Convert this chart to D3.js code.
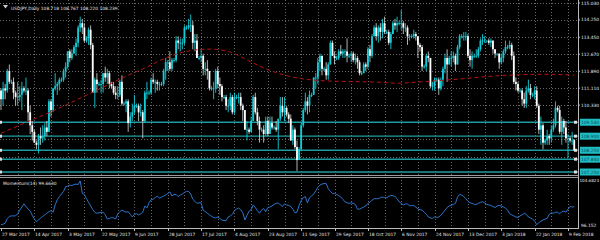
<!DOCTYPE html>
<html>
<head>
<meta charset="utf-8">
<script src="https://cdn.jsdelivr.net/npm/d3@7"></script>
<style>
body { margin: 0; background: #000; }
svg { display: block; font-family: "DejaVu Sans", sans-serif; }
</style>
</head>
<body>
<svg id="chart" width="600" height="240"></svg>
<script>
// USDJPY daily bars, Sun..Fri (broker has Sunday bars), 27 Mar 2017 - 13 Feb 2018
var firstDay = new Date(2017, 2, 27), lastDay = new Date(2018, 1, 13);
var closedDays = ["2017-12-25", "2018-01-01"];

// one line per week
var opens = [
  111.0,110.6,111.1,111.0,111.9,
  111.4,111.4,110.9,110.7,110.7,110.8,
  111.1,111.0,111.0,110.0,109.4,109.1,
  108.6,108.5,108.9,108.8,108.9,109.3,
  109.1,110.5,110.1,111.1,111.2,111.3,
  111.5,111.5,111.9,112.1,112.8,112.5,
  112.7,113.0,113.2,113.9,114.1,113.9,
  113.3,113.4,113.8,113.1,110.9,111.5,
  111.3,111.3,111.3,111.8,111.6,111.8,
  111.3,111.2,110.9,110.8,110.8,111.4,
  110.4,110.4,110.5,109.5,109.8,110.0,
  110.3,110.3,110.0,110.0,109.6,110.9,
  110.9,110.9,111.5,111.4,111.4,111.3,
  111.3,111.3,111.9,112.3,112.3,112.0,
  112.4,112.4,113.3,113.2,113.2,113.2,
  113.9,113.9,114.0,114.0,113.2,113.3,
  112.5,112.5,112.6,112.0,112.0,111.9,
  111.1,111.1,111.1,111.9,111.3,111.2,
  110.7,110.7,110.3,110.3,110.7,110.0,
  110.7,110.7,110.7,110.3,110.1,109.2,
  109.2,109.1,109.6,110.7,110.0,109.6,
  109.2,109.2,109.0,109.6,109.0,109.5,
  109.3,109.3,109.2,109.7,110.3,110.0,
  110.2,109.9,109.7,108.7,109.2,108.4,
  107.8,108.3,109.4,110.1,110.5,110.3,
  110.8,110.8,111.6,111.6,112.3,112.6,
  112.0,112.0,111.7,112.2,113.2,112.6,
  112.5,112.5,112.8,112.7,112.8,112.8,
  112.6,112.6,112.7,112.4,112.5,112.3,
  111.8,111.8,112.2,112.1,112.9,112.6,
  113.5,113.9,113.5,113.9,113.7,114.1,
  113.7,113.7,113.2,113.6,114.1,114.0,
  114.1,114.1,114.1,113.9,113.9,113.5,
  113.5,113.5,113.6,113.5,113.1,113.0,
  112.1,112.1,112.6,112.5,111.2,111.2,
  111.5,111.5,111.1,111.5,112.0,112.5,
  112.2,112.5,112.5,112.6,112.2,113.0,
  113.5,113.5,113.5,113.5,112.6,112.4,
  112.6,112.6,112.6,112.9,113.3,113.3,
  113.3,113.3,113.2,113.3,112.9,
  112.7,112.7,112.3,112.5,112.8,
  113.0,113.0,113.1,112.6,111.4,111.3,
  111.0,111.0,110.6,110.4,111.0,111.1,
  110.8,110.8,111.0,110.3,109.2,109.4,
  108.6,108.7,108.9,108.8,109.2,109.4,
  110.2,110.1,109.1,109.6,109.3,108.8,
  108.8,108.7,108.718
];
var highs = [
  111.1,111.4,111.3,112.0,112.2,
  111.5,111.6,111.0,111.4,111.2,111.4,
  111.2,111.6,111.1,110.3,109.6,109.2,
  108.7,109.0,109.3,109.4,109.5,109.6,
  110.6,110.6,111.1,111.8,111.4,111.6,
  111.6,112.0,112.3,112.8,112.9,112.9,
  113.1,113.4,114.0,114.4,114.3,114.1,
  113.5,113.9,114.0,113.2,111.6,111.8,
  111.4,111.5,111.8,112.1,112.0,111.9,
  111.4,111.4,111.2,111.2,111.5,111.7,
  110.5,110.6,110.6,110.0,110.4,110.8,
  110.4,110.4,110.4,110.1,111.0,111.4,
  111.0,111.6,111.8,111.5,111.5,111.4,
  111.4,112.0,112.5,112.4,112.8,112.5,
  112.5,113.5,113.5,113.4,113.4,114.0,
  114.0,114.3,114.5,114.2,113.6,113.6,
  112.6,112.9,112.7,112.3,112.4,111.9,
  111.2,111.4,112.0,112.1,111.6,111.3,
  110.8,110.8,110.6,110.9,110.8,110.9,
  110.8,110.9,110.9,110.4,110.1,109.6,
  109.3,109.8,110.8,110.9,110.2,109.8,
  109.3,109.4,109.8,109.8,109.8,109.8,
  109.4,109.6,109.7,110.7,110.7,110.7,
  110.3,110.0,109.9,109.4,109.3,108.7,
  108.4,109.5,110.2,110.9,110.7,111.0,
  110.9,111.6,111.8,112.5,112.7,112.6,
  112.1,112.3,112.3,113.3,113.3,112.8,
  112.6,112.9,113.1,112.9,112.9,113.4,
  112.7,112.8,112.8,112.7,112.6,112.4,
  111.9,112.3,112.3,113.0,113.1,113.6,
  114.0,114.1,114.0,114.1,114.3,114.4,
  113.8,113.8,113.7,114.2,114.3,114.4,
  114.2,114.7,114.2,114.1,114.0,113.6,
  113.6,113.8,113.7,113.5,113.2,113.1,
  112.2,112.7,112.8,112.5,111.4,111.6,
  111.6,111.6,111.6,112.1,112.7,112.9,
  112.6,112.8,112.8,112.7,113.1,113.6,
  113.6,113.7,113.7,113.6,112.9,112.8,
  112.7,112.9,113.0,113.4,113.6,113.5,
  113.3,113.4,113.4,113.3,112.9,
  112.7,112.7,112.7,112.9,113.3,
  113.1,113.3,113.2,112.8,111.6,111.4,
  111.1,111.1,110.9,111.2,111.5,111.3,
  110.9,111.2,111.2,110.4,109.8,109.5,
  108.8,109.2,109.0,109.4,109.7,110.5,
  110.3,110.3,109.8,109.7,109.6,109.0,
  108.9,109.1,108.767
];
var lows = [
  110.1,110.3,110.6,110.9,111.3,
  111.3,110.6,110.3,110.3,110.5,110.1,
  110.9,110.8,109.6,109.0,108.7,108.6,
  108.3,108.1,108.5,108.6,108.7,108.9,
  109.1,109.8,110.0,111.0,110.8,111.0,
  111.4,111.4,111.6,112.0,112.3,112.4,
  112.7,112.6,113.0,113.7,113.6,113.2,
  113.2,113.1,112.9,110.9,110.2,110.9,
  111.2,110.9,110.9,111.4,111.3,111.1,
  111.1,110.8,110.6,110.6,110.7,110.3,
  110.3,110.0,109.1,109.3,109.6,109.9,
  110.2,109.6,109.8,108.8,109.5,110.6,
  110.8,110.8,111.3,110.9,111.0,111.0,
  111.2,111.2,111.5,111.9,111.9,111.9,
  112.3,112.3,112.9,112.8,112.9,113.1,
  113.8,113.8,113.7,112.9,112.8,112.5,
  112.4,112.3,111.7,111.7,111.5,111.0,
  111.0,110.6,110.9,111.1,110.8,110.5,
  110.6,110.1,110.0,110.1,109.9,109.9,
  110.6,110.4,110.1,109.6,109.2,108.7,
  109.0,109.1,109.6,109.9,109.4,108.6,
  109.1,108.6,108.9,108.9,109.0,109.2,
  109.2,109.1,108.3,109.6,109.8,109.6,
  109.8,109.5,108.7,108.5,108.3,107.3,
  107.8,108.2,109.3,110.0,109.9,110.0,
  110.7,110.8,111.1,111.3,111.9,111.7,
  111.9,111.5,111.5,112.2,112.6,112.2,
  112.4,112.4,112.6,112.5,112.5,112.3,
  112.5,112.3,112.3,112.2,112.0,111.7,
  111.7,111.8,111.9,112.0,112.3,112.5,
  113.5,113.3,113.2,113.3,113.4,113.6,
  113.6,113.1,112.9,113.6,113.8,113.7,
  114.0,113.8,113.6,113.7,113.1,113.3,
  113.4,113.4,113.3,112.5,112.8,111.9,
  112.0,111.9,112.3,111.1,111.0,111.0,
  111.4,110.8,111.0,111.2,111.8,111.4,
  112.2,112.1,112.3,111.9,112.2,112.9,
  113.4,113.3,113.3,112.5,112.1,112.0,
  112.5,112.5,112.5,112.8,113.1,113.2,
  113.2,113.1,113.0,112.7,112.5,
  112.6,112.0,112.2,112.3,112.7,
  112.9,112.9,112.4,111.3,111.0,110.9,
  110.9,110.3,110.2,110.2,110.9,110.6,
  110.7,110.6,110.2,109.0,108.5,108.3,
  108.5,108.5,108.5,108.6,109.1,109.3,
  110.0,109.0,108.5,109.0,108.6,107.9,
  108.6,108.5,108.220
];
var closes = [
  110.6,111.1,111.0,111.9,111.4,
  111.4,110.9,110.7,110.7,110.8,111.1,
  111.0,111.0,110.0,109.4,109.1,108.6,
  108.5,108.9,108.8,108.9,109.3,109.1,
  110.5,110.1,111.1,111.2,111.3,111.5,
  111.5,111.9,112.1,112.8,112.5,112.7,
  113.0,113.2,113.9,114.1,113.9,113.3,
  113.4,113.8,113.1,110.9,111.5,111.3,
  111.3,111.3,111.8,111.6,111.8,111.3,
  111.2,110.9,110.8,110.8,111.4,110.4,
  110.4,110.5,109.5,109.8,110.0,110.3,
  110.3,110.0,110.0,109.6,110.9,110.9,
  110.9,111.5,111.4,111.4,111.3,111.3,
  111.3,111.9,112.3,112.3,112.0,112.4,
  112.4,113.3,113.2,113.2,113.2,113.9,
  113.9,114.0,114.0,113.2,113.3,112.5,
  112.5,112.6,112.0,112.0,111.9,111.1,
  111.1,111.1,111.9,111.3,111.2,110.7,
  110.7,110.3,110.3,110.7,110.0,110.7,
  110.7,110.7,110.3,110.1,109.2,109.2,
  109.1,109.6,110.7,110.0,109.6,109.2,
  109.2,109.0,109.6,109.0,109.5,109.3,
  109.3,109.2,109.7,110.3,110.0,110.2,
  109.9,109.7,108.7,109.2,108.4,107.8,
  108.3,109.4,110.1,110.5,110.3,110.8,
  110.8,111.6,111.6,112.3,112.6,112.0,
  112.0,111.7,112.2,113.2,112.6,112.5,
  112.5,112.8,112.7,112.8,112.8,112.6,
  112.6,112.7,112.4,112.5,112.3,111.8,
  111.8,112.2,112.1,112.9,112.6,113.5,
  113.9,113.5,113.9,113.7,114.1,113.7,
  113.7,113.2,113.6,114.1,114.0,114.1,
  114.1,114.1,113.9,113.9,113.5,113.5,
  113.5,113.6,113.5,113.1,113.0,112.1,
  112.1,112.6,112.5,111.2,111.2,111.5,
  111.5,111.1,111.5,112.0,112.5,112.2,
  112.5,112.5,112.6,112.2,113.0,113.5,
  113.5,113.5,113.5,112.6,112.4,112.6,
  112.6,112.6,112.9,113.3,113.3,113.3,
  113.3,113.2,113.3,112.9,112.7,
  112.7,112.3,112.5,112.8,113.0,
  113.0,113.1,112.6,111.4,111.3,111.0,
  111.0,110.6,110.4,111.0,111.1,110.8,
  110.8,111.0,110.3,109.2,109.4,108.6,
  108.7,108.9,108.8,109.2,109.4,110.2,
  110.1,109.1,109.6,109.3,108.8,108.8,
  108.7,108.7,108.239
];
var momentum = [
  96.2,96.3,96.5,97.4,97.8,
  97.9,97.9,97.9,98.3,99.0,99.6,
  100.2,99.7,99.2,98.8,98.0,97.3,
  96.8,97.1,97.5,97.8,98.1,98.4,
  98.7,98.9,98.6,100.0,101.0,101.6,
  102.1,102.6,103.5,103.6,103.8,103.7,
  103.9,104.0,103.9,104.6,102.2,102.0,
  101.2,100.5,99.8,99.1,98.6,98.4,
  98.5,98.6,98.6,98.1,97.3,97.4,
  97.6,97.5,97.3,98.3,98.7,99.0,
  98.8,98.6,98.7,98.2,97.7,98.2,
  98.3,98.1,98.3,98.6,99.8,99.4,
  100.4,101.0,101.1,101.4,101.7,101.3,
  101.5,101.7,101.9,102.2,102.5,101.7,
  102.0,102.0,101.6,101.9,102.1,102.4,
  102.6,102.6,102.1,101.1,100.7,100.3,
  100.4,100.4,99.0,98.7,98.4,98.1,
  97.8,97.6,97.5,97.7,97.4,97.1,
  97.0,97.0,97.7,97.9,98.2,98.9,
  99.2,99.4,99.1,98.5,97.1,98.0,
  98.8,99.1,100.0,99.5,98.9,98.4,
  99.0,99.3,98.7,99.5,99.6,99.8,
  100.1,100.3,100.4,100.0,99.7,100.2,
  100.0,99.9,99.7,99.2,98.5,98.6,
  99.9,100.8,101.4,101.6,100.4,101.4,
  101.7,102.1,102.7,103.4,103.8,104.0,
  104.1,104.1,103.1,102.6,102.2,102.2,
  102.0,101.8,101.5,101.1,100.6,100.4,
  100.3,100.4,100.3,100.1,99.2,99.2,
  99.4,99.6,99.8,100.3,100.5,100.9,
  101.2,101.2,101.2,101.4,101.5,101.4,
  101.4,101.6,101.8,101.8,101.6,101.2,
  100.6,100.3,100.0,100.2,100.2,99.8,
  99.9,99.9,99.6,99.2,99.1,99.0,
  98.6,98.2,97.7,97.5,97.4,97.7,
  97.6,97.7,98.0,98.5,99.0,99.5,
  99.8,99.9,100.1,100.3,101.5,102.0,
  101.9,101.6,101.2,100.7,100.4,100.3,
  100.1,100.1,100.3,100.5,100.6,100.4,
  100.1,100.0,99.9,99.7,99.5,
  99.8,99.9,99.8,99.6,99.4,
  99.0,98.3,98.1,97.9,97.7,97.6,
  97.9,98.1,98.4,98.2,97.7,97.5,
  97.3,96.9,96.2,96.6,96.9,97.1,
  97.3,97.4,98.2,98.5,98.4,98.6,
  98.6,98.3,98.7,98.8,98.6,99.2,
  99.7,99.6,99.663
];
// moving average, read every 10 bars
var maBars = [0,10,20,30,40,50,60,70,80,90,100,110,120,130,140,150,160,170,180,190,200,210,220,230,240,250,260,270,275];
var maValues = [109.03,109.45,109.86,110.28,110.74,111.20,111.66,112.08,112.54,112.82,112.91,112.77,112.31,111.89,111.62,
  111.48,111.43,111.41,111.39,111.34,111.39,111.46,111.53,111.62,111.69,111.73,111.75,111.73,111.71];

var priceTicks = [115.03, 114.25, 113.45, 112.67, 111.89, 111.11, 110.33, 109.54, 108.75, 107.96];
var levels = [109.54, 108.90, 108.25, 107.84, 107.25];
var levelLabels = ["109.540", "108.900", "108.250", "107.840", "107.250"];
var momTicks = ["104.6823", "96.152"];
var timeLabels = ["27 Mar 2017","14 Apr 2017","3 May 2017","22 May 2017","9 Jun 2017","28 Jun 2017",
  "17 Jul 2017","4 Aug 2017","23 Aug 2017","11 Sep 2017","29 Sep 2017","18 Oct 2017","6 Nov 2017",
  "24 Nov 2017","13 Dec 2017","3 Jan 2018","22 Jan 2018","9 Feb 2018"];

var fmtDay = d3.timeFormat("%Y-%m-%d");
var barDays = d3.timeDay.range(firstDay, d3.timeDay.offset(lastDay, 1)).filter(function(d) {
  return d.getDay() !== 6 && closedDays.indexOf(fmtDay(d)) < 0;
});
var dayIndex = {};
barDays.forEach(function(d, i) { dayIndex[fmtDay(d)] = i; });
var parseLabel = d3.timeParse("%e %b %Y");

var svg = d3.select("#chart");
var axisX = 578, mainBottom = 175, indTop = 177, indBottom = 228;
var textCol = "#e6e6e6", gridCol = "#6a6a6a";
var bullCol = "#14ccd6", bearCol = "#ffffff";

var x = d3.scaleLinear().domain([0, 272]).range([1, 568]);
var y = d3.scaleLinear().domain([107.25, 115.03]).range([172, 3]);
var ym = d3.scaleLinear().domain([96.152, 104.6823]).range([225, 180.5]);

svg.append("rect").attr("width", 600).attr("height", 240).attr("fill", "#000");

// grid
var gridSlots = d3.range(8, 273, 8);
var grid = svg.append("g").attr("stroke", gridCol).attr("stroke-dasharray", "1,2").attr("shape-rendering", "crispEdges");
grid.selectAll("line.h").data(priceTicks).enter().append("line")
  .attr("x1", 0).attr("x2", axisX)
  .attr("y1", function(d) { return Math.round(y(d)) + 0.5; })
  .attr("y2", function(d) { return Math.round(y(d)) + 0.5; });
grid.selectAll("line.v").data(gridSlots).enter().append("line")
  .attr("x1", function(d) { return Math.round(x(d)) + 0.5; })
  .attr("x2", function(d) { return Math.round(x(d)) + 0.5; })
  .attr("y1", 0).attr("y2", mainBottom);
grid.selectAll("line.vi").data(gridSlots).enter().append("line")
  .attr("x1", function(d) { return Math.round(x(d)) + 0.5; })
  .attr("x2", function(d) { return Math.round(x(d)) + 0.5; })
  .attr("y1", indTop).attr("y2", indBottom);

// support / resistance levels
svg.append("g").selectAll("line").data(levels).enter().append("line")
  .attr("x1", 0).attr("x2", axisX)
  .attr("y1", function(d) { return y(d); }).attr("y2", function(d) { return y(d); })
  .attr("stroke", "#1f9a9e").attr("stroke-width", 1.4);
svg.append("g").selectAll("rect").data(levels).enter().append("rect")
  .attr("x", 0).attr("y", function(d) { return y(d) - 1.5; })
  .attr("width", 2).attr("height", 3).attr("fill", "#ddd");
svg.append("g").selectAll("rect").data(levels).enter().append("rect")
  .attr("x", 574).attr("y", function(d) { return y(d) - 1.5; })
  .attr("width", 3).attr("height", 3).attr("fill", "#ddd");

// candles
var candles = svg.append("g");
barDays.forEach(function(d, i) {
  var o = opens[i], h = highs[i], l = lows[i], c = closes[i];
  var up = c >= o;
  var cx = x(i);
  candles.append("line")
    .attr("x1", cx).attr("x2", cx).attr("y1", y(h)).attr("y2", y(l))
    .attr("stroke", up ? bullCol : "#c4c4c4").attr("stroke-width", 0.9);
  var top = y(Math.max(o, c)), bot = y(Math.min(o, c));
  candles.append("rect")
    .attr("x", cx - 0.9).attr("width", 1.8)
    .attr("y", top).attr("height", Math.max(0.8, bot - top))
    .attr("fill", up ? bullCol : bearCol);
});

// moving average
var maLine = d3.line()
  .x(function(d, i) { return x(maBars[i]); })
  .y(function(d) { return y(d); })
  .curve(d3.curveMonotoneX);
svg.append("path").datum(maValues).attr("d", maLine)
  .attr("fill", "none").attr("stroke", "#b81414").attr("stroke-width", 1)
  .attr("stroke-dasharray", "4,3");

// window frames
var frame = svg.append("g").attr("shape-rendering", "crispEdges").attr("fill", "none");
frame.append("line").attr("x1", 0).attr("x2", axisX).attr("y1", mainBottom + 0.5).attr("y2", mainBottom + 0.5).attr("stroke", "#9a9a9a");
frame.append("line").attr("x1", 0).attr("x2", axisX).attr("y1", indTop + 0.5).attr("y2", indTop + 0.5).attr("stroke", "#9a9a9a");
frame.append("line").attr("x1", 0).attr("x2", axisX).attr("y1", indBottom + 0.5).attr("y2", indBottom + 0.5).attr("stroke", "#bbbbbb");
frame.append("line").attr("x1", axisX + 0.5).attr("x2", axisX + 0.5).attr("y1", 0).attr("y2", indBottom + 1).attr("stroke", "#bbbbbb");

// momentum
var momLine = d3.line()
  .x(function(d, i) { return x(i); })
  .y(function(d) { return ym(d); });
svg.append("path").datum(momentum).attr("d", momLine)
  .attr("fill", "none").attr("stroke", "#2c74cc").attr("stroke-width", 1);

// price axis
var fs = 4.4;
var pa = svg.append("g").attr("font-size", fs).attr("fill", textCol);
priceTicks.forEach(function(p) {
  if (levels.some(function(l) { return Math.abs(y(l) - y(p)) < 6; })) return;
  pa.append("text").attr("x", 581).attr("y", y(p)).attr("dy", "0.35em").text(d3.format(".3f")(p));
  pa.append("line").attr("x1", axisX).attr("x2", axisX + 2).attr("y1", y(p)).attr("y2", y(p)).attr("stroke", "#bbb");
});
levels.forEach(function(l, i) {
  pa.append("rect").attr("x", 580).attr("y", y(l) - 3.5).attr("width", 20).attr("height", 7).attr("fill", "#1fbcc4");
  pa.append("text").attr("x", 581).attr("y", y(l)).attr("dy", "0.35em").attr("fill", "#0a4a50").text(levelLabels[i]);
});
pa.append("text").attr("x", 579.5).attr("y", ym(104.6823)).attr("dy", "0.35em").attr("font-size", 4.1).text(momTicks[0]);
pa.append("text").attr("x", 581).attr("y", ym(96.152)).attr("dy", "0.35em").text(momTicks[1]);

// time axis
var ta = svg.append("g").attr("font-size", fs).attr("fill", textCol);
timeLabels.forEach(function(t) {
  var i = dayIndex[fmtDay(parseLabel(t))];
  var px = Math.round(x(i));
  ta.append("line").attr("x1", px + 0.5).attr("x2", px + 0.5).attr("y1", indBottom).attr("y2", indBottom + 3).attr("stroke", "#bbb");
  ta.append("text").attr("x", Math.max(0, px + 1)).attr("y", 236).text(t);
});

// headers
svg.append("path").attr("d", "M3,5 L8,5 L5.5,8.5 Z").attr("fill", "#ccc");
svg.append("text").attr("x", 11).attr("y", 9.5).attr("font-size", fs).attr("fill", textCol)
  .text("USDJPY,Daily  108.718 108.767 108.220 108.239");
svg.append("text").attr("x", 3).attr("y", 185).attr("font-size", fs).attr("fill", textCol)
  .text("Momentum(14) 99.6630");
</script>
</body>
</html>
